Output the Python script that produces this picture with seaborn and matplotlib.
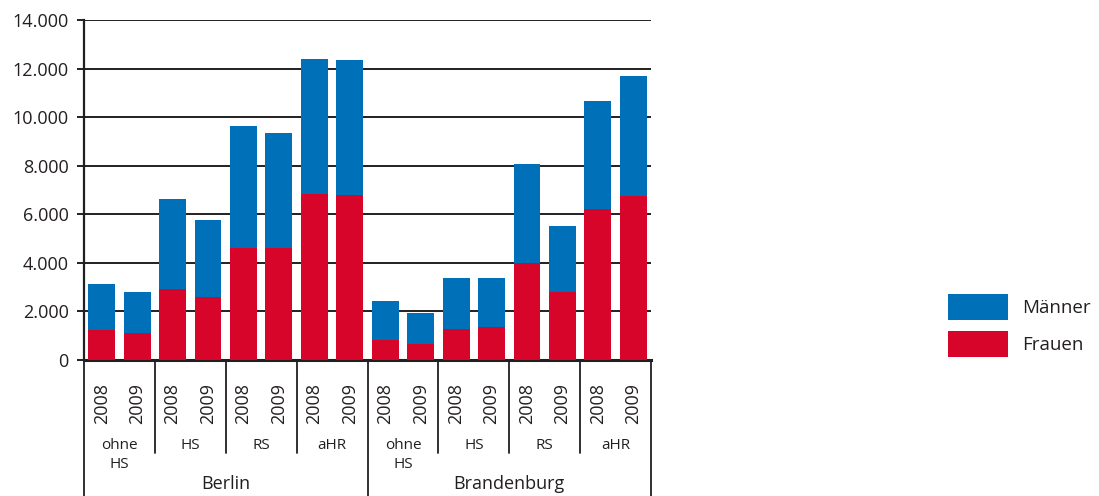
import matplotlib
matplotlib.use("Agg")
import matplotlib.pyplot as plt
import seaborn as sns
import pandas as pd
from matplotlib.patches import Patch
from matplotlib.ticker import FuncFormatter

# data
regions = ["Berlin", "Brandenburg"]
schools = ["ohne\nHS", "HS", "RS", "aHR"]
years = ["2008", "2009"]

total_berlin = [3130, 2800, 6630, 5760, 9630, 9350, 12390, 12350]
frauen_berlin = [1240, 1130, 2920, 2610, 4630, 4630, 6850, 6790]
total_brandenburg = [2430, 1950, 3380, 3380, 8070, 5520, 10660, 11690]
frauen_brandenburg = [840, 670, 1280, 1360, 3990, 2810, 6220, 6770]

blue = "#0070b8"
red = "#d8052b"
ink = "#231f20"

rows = []
for reg, tot, fra in [("Berlin", total_berlin, frauen_berlin),
                      ("Brandenburg", total_brandenburg, frauen_brandenburg)]:
    i = 0
    for s in schools:
        for y in years:
            rows.append({"key": f"{reg} {s} {y}", "region": reg, "school": s,
                         "year": y, "total": tot[i], "frauen": fra[i]})
            i += 1
df = pd.DataFrame(rows)
df["maenner"] = df["total"] - df["frauen"]

sns.set_style("white")
plt.rcParams["font.family"] = ["Open Sans", "DejaVu Sans"]
plt.rcParams["text.color"] = ink

fig = plt.figure(figsize=(10.99, 4.96), dpi=100)
ax = fig.add_axes([84 / 1099, 136 / 496, 567 / 1099, 340 / 496])

order = list(df["key"])
# stacked: full bar in blue, women drawn over it in red
sns.barplot(data=df, x="key", y="total", order=order, color=blue,
            saturation=1, width=0.76, linewidth=0, ax=ax, zorder=3)
sns.barplot(data=df, x="key", y="frauen", order=order, color=red,
            saturation=1, width=0.76, linewidth=0, ax=ax, zorder=4)

ax.set_xlim(-0.5, len(df) - 0.5)
ax.set_ylim(0, 14000)
ax.set_yticks(range(0, 14001, 2000))
ax.yaxis.set_major_formatter(FuncFormatter(lambda v, p: f"{int(v):,}".replace(",", ".")))
ax.yaxis.grid(True, color=ink, lw=1.4)
ax.set_axisbelow(True)
ax.tick_params(axis="y", length=5, width=1.4, color=ink, pad=6,
               labelsize=13, left=True, labelcolor=ink)
ax.set_xticks(range(len(df)))
ax.set_xticklabels(df["year"], rotation=90, fontsize=13, va="top")
ax.tick_params(axis="x", length=0, pad=16.5, labelcolor=ink)
ax.set_xlabel("")
ax.set_ylabel("")

for side in ["top", "right"]:
    ax.spines[side].set_visible(False)
ax.spines["left"].set_color(ink)
ax.spines["left"].set_linewidth(1.6)
ax.spines["bottom"].set_color(ink)
ax.spines["bottom"].set_linewidth(2.2)

# separators and group labels below the axis
xt = ax.get_xaxis_transform()
n = len(df)
for g in range(0, n + 1, 2):
    x = g - 0.5
    bottom = -0.41 if g % 8 == 0 else -0.2735
    ax.plot([x, x], [0, bottom], transform=xt, color=ink, lw=1.3, clip_on=False)

for j in range(0, n, 2):
    for line_no, part in enumerate(df["school"][j].split("\n")):
        ax.text(j + 0.5, -0.2529 - 0.053 * line_no, part, transform=xt,
                ha="center", va="center", fontsize=11)

for k, reg in enumerate(regions):
    ax.text(k * 8 + 3.5, -0.366, reg, transform=xt, ha="center", va="center", fontsize=13)

handles = [Patch(facecolor=blue, edgecolor="none", label="Männer"),
           Patch(facecolor=red, edgecolor="none", label="Frauen")]
fig.legend(handles=handles, loc="upper left", bbox_to_anchor=(948 / 1099, 1 - 294 / 496),
           frameon=False, fontsize=13.5, handlelength=3.2, handleheight=1.76,
           handletextpad=0.75, labelspacing=0.58, borderpad=0, borderaxespad=0)

fig.savefig("out.png", dpi=100)
